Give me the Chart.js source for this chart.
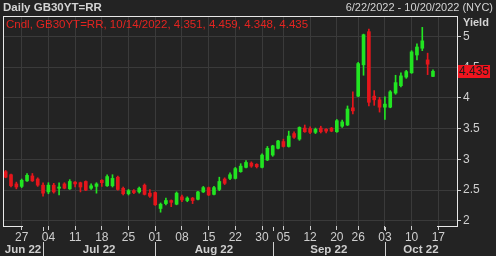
<!DOCTYPE html>
<html>
<head>
<meta charset="utf-8">
<script src="https://cdn.jsdelivr.net/npm/chart.js@4.4.0/dist/chart.umd.min.js"></script>
<style>
  html, body { margin: 0; padding: 0; background: #232323; }
  #wrap { position: relative; width: 496px; height: 256px; overflow: hidden; font-family: 'Liberation Sans', Arial, sans-serif; }
  #chart { position: absolute; left: 0; top: 0; }
  .lbl { position: absolute; white-space: nowrap; line-height: 13px; }
  #title { left: 3px; top: 1px; font-weight: bold; font-size: 11.5px; color: #d4d4d4; }
  #range { right: 3px; top: 1px; font-size: 11px; color: #d4d4d4; }
  #legend { left: 6px; top: 18px; font-size: 11.5px; color: #e42420; }
  #yield { left: 463px; top: 16px; font-weight: bold; font-size: 11px; color: #d4d4d4; }
  #last { left: 458px; width: 32px; height: 13px; line-height: 13px; background: #f0141e; color: #1c1c1c; font-size: 12px; text-align: center; }
</style>
</head>
<body>
<div id="wrap">
  <canvas id="chart" width="496" height="256"></canvas>
  <div class="lbl" id="title">Daily GB30YT=RR</div>
  <div class="lbl" id="range">6/22/2022 - 10/20/2022 (NYC)</div>
  <div class="lbl" id="legend">Cndl, GB30YT=RR, 10/14/2022, 4.351, 4.459, 4.348, 4.435</div>
  <div class="lbl" id="yield">Yield</div>
  <div class="lbl" id="last">4.435</div>
</div>
<script>
// trading days shown on the axis (last four have no data yet)
const DATES = [
  '06-22', '06-23', '06-24', '06-27', '06-28', '06-29', '06-30',
  '07-01', '07-04', '07-05', '07-06', '07-07', '07-08', '07-11', '07-12', '07-13', '07-14', '07-15',
  '07-18', '07-19', '07-20', '07-21', '07-22', '07-25', '07-26', '07-27', '07-28', '07-29',
  '08-01', '08-02', '08-03', '08-04', '08-05', '08-08', '08-09', '08-10', '08-11', '08-12',
  '08-15', '08-16', '08-17', '08-18', '08-19', '08-22', '08-23', '08-24', '08-25', '08-26',
  '08-30', '08-31',
  '09-01', '09-02', '09-05', '09-06', '09-07', '09-08', '09-09', '09-12', '09-13', '09-14', '09-15', '09-16',
  '09-20', '09-21', '09-22', '09-23', '09-26', '09-27', '09-28', '09-29', '09-30',
  '10-03', '10-04', '10-05', '10-06', '10-07', '10-10', '10-11', '10-12', '10-13', '10-14',
  '10-17', '10-18', '10-19', '10-20'
];

// week starts that get a day label + gridline
const WEEK_TICKS = ['06-27', '07-04', '07-11', '07-18', '07-25', '08-01', '08-08', '08-15', '08-22',
  '08-30', '09-05', '09-12', '09-20', '09-26', '10-03', '10-10', '10-17'];

const MONTH_LABELS = ['Jun 22', 'Jul 22', 'Aug 22', 'Sep 22', 'Oct 22'];

const OPENS = [
  2.80, 2.75, 2.60, 2.56, 2.65, 2.73, 2.68, 2.58, 2.47, 2.58,
  2.53, 2.60, 2.52, 2.63, 2.62, 2.64, 2.53, 2.56, 2.66, 2.57,
  2.57, 2.71, 2.53, 2.44, 2.49, 2.47, 2.58, 2.45, 2.46, 2.20,
  2.28, 2.33, 2.27, 2.39, 2.33, 2.37, 2.35, 2.47, 2.54, 2.43,
  2.51, 2.68, 2.69, 2.69, 2.80, 2.87, 2.94, 2.92, 2.87, 2.99,
  3.07, 3.18, 3.29, 3.21, 3.42, 3.33, 3.51, 3.50, 3.44, 3.51,
  3.49, 3.51, 3.45, 3.54, 3.56, 3.84, 4.03, 4.54, 5.08, 4.03,
  3.97, 3.85, 3.85, 4.08, 4.20, 4.34, 4.41, 4.70, 4.81, 4.62,
  4.351
];
const HIGHS = [
  2.82, 2.76, 2.63, 2.68, 2.77, 2.77, 2.70, 2.62, 2.62, 2.61,
  2.62, 2.62, 2.67, 2.64, 2.63, 2.65, 2.60, 2.62, 2.67, 2.75,
  2.75, 2.73, 2.55, 2.51, 2.51, 2.55, 2.60, 2.51, 2.47, 2.29,
  2.37, 2.34, 2.47, 2.42, 2.39, 2.38, 2.48, 2.56, 2.55, 2.56,
  2.71, 2.70, 2.78, 2.87, 2.93, 2.98, 2.96, 2.93, 3.09, 3.21,
  3.23, 3.31, 3.33, 3.46, 3.45, 3.53, 3.56, 3.53, 3.51, 3.54,
  3.50, 3.52, 3.65, 3.64, 3.87, 4.10, 4.58, 5.04, 5.12, 4.12,
  4.01, 4.02, 4.12, 4.37, 4.41, 4.45, 4.77, 4.88, 5.15, 4.73,
  4.459
];
const LOWS = [
  2.70, 2.55, 2.52, 2.54, 2.64, 2.64, 2.56, 2.40, 2.44, 2.45,
  2.42, 2.52, 2.51, 2.55, 2.47, 2.49, 2.51, 2.45, 2.56, 2.56,
  2.55, 2.50, 2.42, 2.42, 2.44, 2.45, 2.42, 2.38, 2.25, 2.14,
  2.26, 2.23, 2.26, 2.31, 2.31, 2.28, 2.34, 2.46, 2.41, 2.42,
  2.49, 2.59, 2.67, 2.68, 2.79, 2.86, 2.87, 2.86, 2.86, 2.98,
  3.05, 3.17, 3.20, 3.20, 3.34, 3.31, 3.44, 3.42, 3.42, 3.43,
  3.43, 3.45, 3.44, 3.52, 3.55, 3.74, 4.02, 4.37, 3.87, 3.88,
  3.77, 3.65, 3.84, 4.06, 4.18, 4.32, 4.40, 4.62, 4.77, 4.38,
  4.348
];
const CLOSES = [
  2.71, 2.57, 2.55, 2.66, 2.74, 2.65, 2.58, 2.45, 2.58, 2.47,
  2.55, 2.53, 2.64, 2.60, 2.55, 2.50, 2.57, 2.60, 2.62, 2.72,
  2.69, 2.51, 2.44, 2.49, 2.46, 2.53, 2.43, 2.40, 2.26, 2.27,
  2.33, 2.30, 2.45, 2.34, 2.37, 2.33, 2.47, 2.54, 2.42, 2.54,
  2.64, 2.61, 2.75, 2.85, 2.89, 2.95, 2.89, 2.88, 3.07, 3.18,
  3.22, 3.30, 3.21, 3.38, 3.36, 3.52, 3.45, 3.44, 3.49, 3.45,
  3.46, 3.46, 3.63, 3.61, 3.82, 3.79, 4.56, 5.03, 3.93, 3.97,
  3.85, 3.90, 4.10, 4.25, 4.36, 4.43, 4.75, 4.83, 4.93, 4.55,
  4.435
];

const Y_TICKS = [2, 2.5, 3, 3.5, 4, 4.5, 5];
const Y_MIN = 1.915;
const Y_MAX = 5.335;

const UP = '#22e522';
const DOWN = '#e5161c';
const GRID = '#3a3a3a';
const TEXT = '#cfcfcf';
const FRAME = '#e8e8e8';

const isWeek = (i) => WEEK_TICKS.includes(DATES[i]);
const hasBar = (i) => i < CLOSES.length;

const wickData = DATES.map((d, i) => hasBar(i) ? [LOWS[i], HIGHS[i]] : null);
const bodyData = DATES.map((d, i) => hasBar(i)
  ? [Math.min(OPENS[i], CLOSES[i]), Math.max(OPENS[i], CLOSES[i])] : null);
const barColors = DATES.map((d, i) => hasBar(i) && CLOSES[i] >= OPENS[i] ? UP : DOWN);

// frame, month row, background
const decorPlugin = {
  id: 'decor',
  beforeDraw(chart) {
    const { ctx } = chart;
    ctx.save();
    ctx.fillStyle = '#232323';
    ctx.fillRect(0, 0, chart.width, chart.height);
    ctx.restore();
  },
  afterDraw(chart) {
    const { ctx, chartArea: a } = chart;
    const x = chart.scales.x;
    ctx.save();
    ctx.strokeStyle = FRAME;
    ctx.lineWidth = 1;
    ctx.beginPath();
    ctx.moveTo(a.left + 0.5, a.top);
    ctx.lineTo(a.left + 0.5, a.bottom + 0.5);
    ctx.moveTo(a.left, a.top + 0.5);
    ctx.lineTo(a.right, a.top + 0.5);
    ctx.moveTo(a.left, a.bottom + 0.5);
    ctx.lineTo(a.left + 20, a.bottom + 0.5);
    ctx.moveTo(a.right - 20, a.bottom + 0.5);
    ctx.lineTo(a.right, a.bottom + 0.5);
    ctx.stroke();

    // month separators + labels
    const starts = [0];
    DATES.forEach((d, i) => {
      if (i > 0 && d.slice(0, 2) !== DATES[i - 1].slice(0, 2)) starts.push(i);
    });
    ctx.strokeStyle = TEXT;
    ctx.beginPath();
    starts.slice(1).forEach(i => {
      const px = Math.round(x.getPixelForValue(i)) + 0.5;
      ctx.moveTo(px, a.bottom + 1);
      ctx.lineTo(px, a.bottom + 5);
      ctx.moveTo(px, a.bottom + 16);
      ctx.lineTo(px, chart.height);
    });
    ctx.stroke();

    ctx.fillStyle = TEXT;
    ctx.font = "bold 11.5px 'Liberation Sans', Arial, sans-serif";
    ctx.textAlign = 'center';
    ctx.textBaseline = 'middle';
    starts.forEach((s, m) => {
      const left = m === 0 ? a.left : x.getPixelForValue(s);
      const right = m + 1 < starts.length ? x.getPixelForValue(starts[m + 1]) : a.right;
      ctx.fillText(MONTH_LABELS[m], (left + right) / 2, a.bottom + 24);
    });
    ctx.restore();
  }
};

Chart.defaults.font.family = "'Liberation Sans', Arial, sans-serif";

const chart = new Chart(document.getElementById('chart'), {
  type: 'bar',
  data: {
    labels: DATES,
    datasets: [
      { data: wickData, backgroundColor: barColors, barThickness: 1, grouped: false },
      { data: bodyData, backgroundColor: barColors, barThickness: 3, grouped: false, minBarLength: 1 }
    ]
  },
  options: {
    responsive: false,
    animation: false,
    layout: { padding: { left: 3, top: 16, right: 0, bottom: 0 } },
    plugins: { legend: { display: false }, tooltip: { enabled: false } },
    scales: {
      x: {
        type: 'category',
        offset: true,
        border: { display: false },
        grid: {
          offset: false,
          color: (c) => isWeek(c.index) ? GRID : 'rgba(0,0,0,0)',
          tickColor: (c) => isWeek(c.index) ? TEXT : 'rgba(0,0,0,0)',
          tickLength: 4
        },
        ticks: {
          autoSkip: false,
          maxRotation: 0,
          padding: 0,
          color: TEXT,
          font: { size: 12 },
          callback: (v, i) => isWeek(i) ? DATES[i].slice(3) : ''
        },
        afterFit: (s) => { s.height = 30; }
      },
      y: {
        position: 'right',
        min: Y_MIN,
        max: Y_MAX,
        afterBuildTicks: (s) => { s.ticks = Y_TICKS.map(v => ({ value: v })); },
        border: { color: FRAME, width: 1 },
        grid: { color: GRID, tickColor: TEXT, tickLength: 4 },
        ticks: { color: TEXT, font: { size: 12 }, padding: 2, callback: (v) => String(v) },
        afterFit: (s) => { s.width = 39; }
      }
    }
  },
  plugins: [decorPlugin]
});

// last value box on the yield axis
const lastEl = document.getElementById('last');
lastEl.style.top = (chart.scales.y.getPixelForValue(CLOSES[CLOSES.length - 1]) - 6.5) + 'px';
</script>
</body>
</html>
